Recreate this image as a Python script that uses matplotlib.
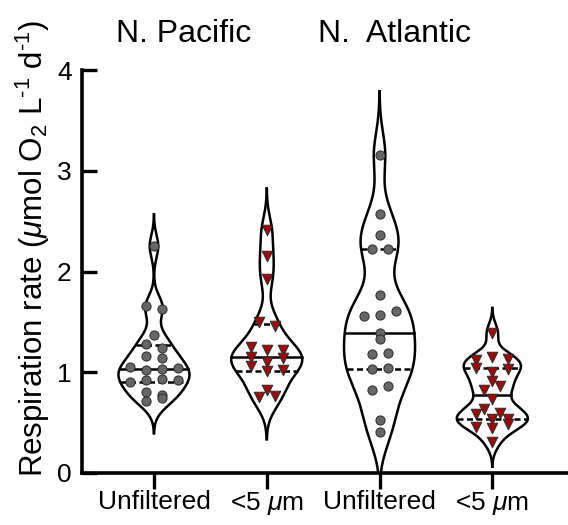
import numpy as np
import matplotlib
matplotlib.use("Agg")
import matplotlib.pyplot as plt

plt.rcParams['font.family'] = ['Liberation Sans', 'DejaVu Sans']
plt.rcParams['mathtext.fontset'] = 'custom'
plt.rcParams['mathtext.rm'] = 'Liberation Sans'
plt.rcParams['mathtext.it'] = 'Liberation Sans:italic'
plt.rcParams['mathtext.default'] = 'regular'

# Respiration rates (umol O2 L-1 d-1) per region and size fraction
pacific_unfiltered = [2.25, 1.66, 1.63, 1.37, 1.28, 1.24, 1.16, 1.14, 1.05, 1.02,
                      1.03, 1.04, 0.90, 0.92, 0.93, 0.92, 0.80, 0.77, 0.71, 0.74]
pacific_small = [2.41, 2.15, 1.93, 1.50, 1.46, 1.25, 1.22, 1.22, 1.15, 1.10,
                 1.14, 1.06, 1.01, 1.02, 0.82, 0.75, 0.76]
atlantic_unfiltered = [3.16, 2.57, 2.36, 2.22, 2.22, 1.77, 1.56, 1.57, 1.61, 1.39,
                       1.33, 1.18, 1.19, 1.03, 1.04, 0.82, 0.86, 0.53, 0.41]
atlantic_small = [1.39, 1.12, 1.15, 1.13, 1.04, 1.00, 1.03, 0.91, 0.82, 0.86,
                  0.73, 0.64, 0.60, 0.59, 0.54, 0.54, 0.46, 0.45, 0.49, 0.31]

groups = [pacific_unfiltered, pacific_small, atlantic_unfiltered, atlantic_small]
tick_labels = ['Unfiltered', r'<5 $\mathit{\mu}$m', 'Unfiltered', r'<5 $\mathit{\mu}$m']
region_titles = ['N. Pacific', 'N.  Atlantic']
markers = ['o', 'v', 'o', 'v']
fills = ['#666666', '#9e0b0b', '#666666', '#9e0b0b']

HALF_WIDTH = 0.315
POINT_STEP = 0.142
ROW_TOL = 0.055
LW = 1.8


def kde_profile(vals, factor=0.55, cut=2.9, npts=500):
    v = np.asarray(vals, float)
    bw = factor * v.std(ddof=1) * v.size ** (-0.2)
    lo = max(v.min() - cut * bw, 0.0)
    hi = v.max() + cut * bw
    y = np.linspace(lo, hi, npts)
    d = np.exp(-0.5 * ((y[:, None] - v[None, :]) / bw) ** 2).sum(axis=1)
    return y, d / d.max()


def row_offsets(vals):
    """Spread points sharing a value row side by side, centred on the violin."""
    v = np.asarray(vals, float)
    order = np.argsort(v, kind='stable')
    rows, cur, start = [], [], None
    for i in order:
        if cur and v[i] - start > ROW_TOL:
            rows.append(cur)
            cur = []
        if not cur:
            start = v[i]
        cur.append(i)
    if cur:
        rows.append(cur)
    off = np.zeros(v.size)
    for r in rows:
        r = sorted(r)
        k = len(r)
        for j, idx in enumerate(r):
            off[idx] = (j - (k - 1) / 2) * POINT_STEP
    return off


fig = plt.figure(figsize=(5.68, 5.25), dpi=100)
W, H = 568, 525
ax = fig.add_axes([82 / W, (H - 473) / H, (567 - 82) / W, (473 - 70) / H])

for pos, vals in enumerate(groups):
    y, d = kde_profile(vals)
    ax.plot(pos + HALF_WIDTH * d, y, color='black', lw=LW, zorder=2,
            solid_capstyle='butt')
    ax.plot(pos - HALF_WIDTH * d, y, color='black', lw=LW, zorder=2,
            solid_capstyle='butt')

    v = np.asarray(vals, float)
    med = np.median(v)
    q1, q3 = np.percentile(v, [25, 75], method='weibull')
    dash = (0, (2.4, 1.4))
    for q, ls in [(med, '-'), (q1, dash), (q3, dash)]:
        w = HALF_WIDTH * np.interp(q, y, d)
        ax.plot([pos - w, pos + w], [q, q], color='black', lw=LW, ls=ls, zorder=3)

    xs = pos + row_offsets(vals)
    size = 6.6 if markers[pos] == 'o' else 7.6
    ax.scatter(xs, v, marker=markers[pos], s=size ** 2, facecolor=fills[pos],
               edgecolor='#2a2a2a', linewidths=0.7, zorder=5)

ax.set_xlim(-0.638, 3.662)
ax.set_ylim(0, 4)
ax.set_yticks([0, 1, 2, 3, 4])
ax.set_xticks(range(len(groups)))
ax.set_xticklabels(tick_labels)

for side in ['top', 'right']:
    ax.spines[side].set_visible(False)
for side in ['left', 'bottom']:
    ax.spines[side].set_linewidth(2.6)
    ax.spines[side].set_capstyle('projecting')

ax.tick_params(axis='x', direction='out', length=11.5, width=2.4,
               labelsize=19, pad=1)
ax.tick_params(axis='y', direction='in', length=10.8, width=2.4,
               labelsize=19, pad=7.5)

fig.text(43.5 / W, (H - 248) / H,
         r'Respiration rate ($\mathit{\mu}$mol O$_2$ L$^{\text{-}1}$ d$^{\text{-}1}$)',
         rotation=90, rotation_mode='anchor', ha='center', va='baseline',
         fontsize=22.5)

fig.text(184 / W, (H - 42) / H, region_titles[0], ha='center', va='baseline',
         fontsize=23)
fig.text(395 / W, (H - 42) / H, region_titles[1], ha='center', va='baseline',
         fontsize=23)

fig.savefig('out.png', dpi=100)
